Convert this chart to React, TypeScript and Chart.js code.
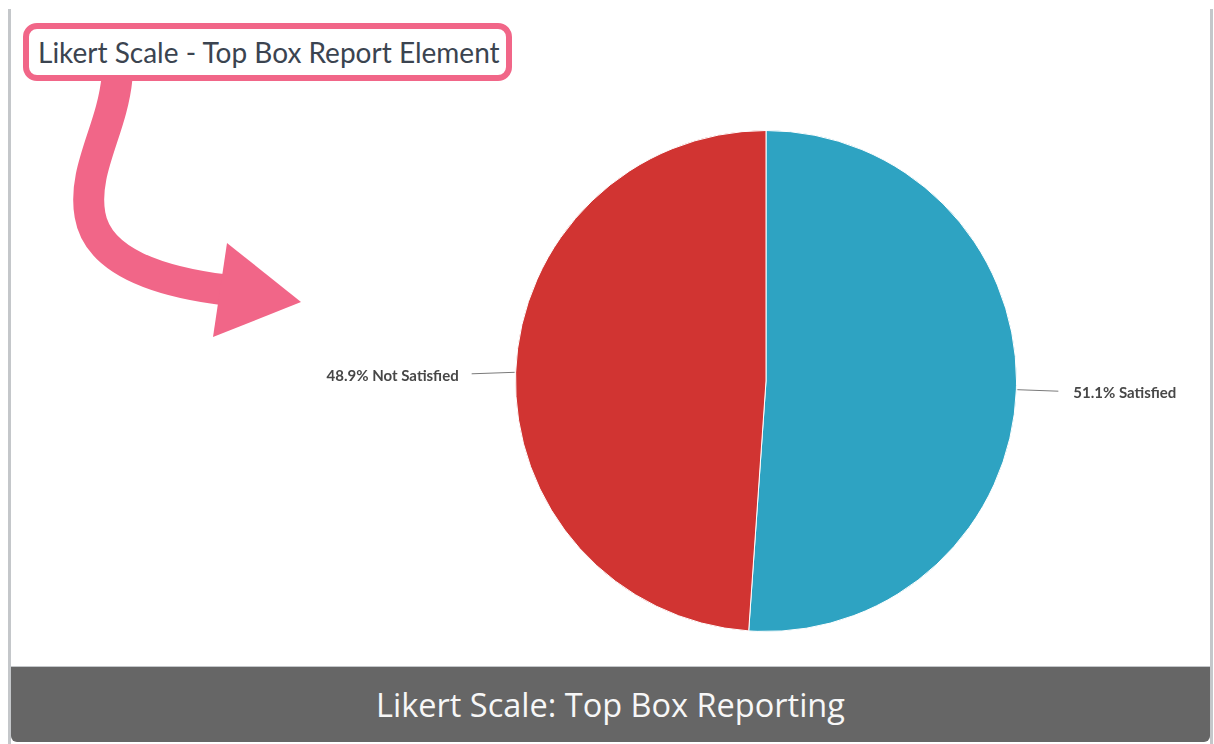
import React, { useEffect, useRef } from "react";
import { Chart, registerables } from "chart.js";

Chart.register(...registerables);

const categories = ["Satisfied", "Not Satisfied"];
const percentages = [51.1, 48.9];
const sliceColors = ["#2ea3c2", "#d13432"];
const annotationText = "Likert Scale - Top Box Report Element";
const footerText = "Likert Scale: Top Box Reporting";

const W = 1214;
const H = 744;

const pieLabelPlugin = {
  id: "pieLabels",
  afterDatasetsDraw(chart: any) {
    const ctx = chart.ctx;
    const meta = chart.getDatasetMeta(0);
    const data = chart.data.datasets[0].data as number[];
    const labels = chart.data.labels as string[];
    ctx.save();
    meta.data.forEach((arc: any, i: number) => {
      const { x, y, startAngle, endAngle, outerRadius } = arc.getProps(
        ["x", "y", "startAngle", "endAngle", "outerRadius"],
        true
      );
      const mid = (startAngle + endAngle) / 2;
      const ex = x + Math.cos(mid) * (outerRadius + 1);
      const ey = y + Math.sin(mid) * (outerRadius + 1);
      const right = Math.cos(mid) >= 0;
      const lx = ex + (right ? 41 : -43);
      const ly = ey + 1.5;
      ctx.strokeStyle = "#7a7a7a";
      ctx.lineWidth = 1;
      ctx.beginPath();
      ctx.moveTo(ex, ey);
      ctx.lineTo(lx, ly);
      ctx.stroke();
      ctx.fillStyle = "#474747";
      ctx.font = "bold 15px Lato";
      ctx.textBaseline = "middle";
      ctx.textAlign = right ? "left" : "right";
      const text = `${data[i].toFixed(1)}% ${labels[i]}`;
      ctx.fillText(text, lx + (right ? 15 : -13), ly + 2);
    });
    ctx.restore();
  },
};

export default function App() {
  const canvasRef = useRef<HTMLCanvasElement | null>(null);

  useEffect(() => {
    if (!canvasRef.current) return;
    const chart = new Chart(canvasRef.current, {
      type: "pie",
      data: {
        labels: categories,
        datasets: [
          {
            data: percentages,
            backgroundColor: sliceColors,
            borderColor: "#ffffff",
            borderWidth: 1,
          },
        ],
      },
      options: {
        animation: false,
        responsive: false,
        devicePixelRatio: 1,
        layout: { padding: { left: 515, right: 197, top: 130, bottom: 112 } },
        plugins: {
          legend: { display: false },
          title: { display: false },
          tooltip: { enabled: false },
        },
      },
      plugins: [pieLabelPlugin],
    });
    return () => chart.destroy();
  }, []);

  return (
    <div
      style={{
        position: "fixed",
        left: 0,
        top: 0,
        width: W,
        height: H,
        background: "#ffffff",
        overflow: "hidden",
      }}
    >
      <canvas
        ref={canvasRef}
        width={W}
        height={H}
        style={{ position: "absolute", left: 0, top: 0, width: W, height: H }}
      />
      {/* card side borders */}
      <div style={{ position: "absolute", left: 8, top: 9, width: 3, height: H - 9, background: "#c4c7ca" }} />
      <div style={{ position: "absolute", left: 1210, top: 9, width: 3, height: H - 9, background: "#c4c7ca" }} />
      {/* footer bar */}
      <div style={{ position: "absolute", left: 11, top: 666, width: 1199, height: 1, background: "#c4c7ca" }} />
      <div
        style={{
          position: "absolute",
          left: 11,
          top: 667,
          width: 1199,
          height: 75,
          background: "#666666",
          borderRadius: "0 0 6px 6px",
          display: "flex",
          alignItems: "center",
          justifyContent: "center",
          color: "#f7f7f7",
          fontFamily: "'Open Sans'",
          fontSize: 32.5,
        }}
      >
        {footerText}
      </div>
      {/* annotation arrow */}
      <svg
        width={W}
        height={H}
        style={{ position: "absolute", left: 0, top: 0, pointerEvents: "none" }}
      >
        <path
          d="M 117 78 C 112 130, 82 170, 90 215 C 98 262, 160 282, 226 290"
          fill="none"
          stroke="#f16688"
          strokeWidth={31}
        />
        <polygon points="227,243 301,302 213,337" fill="#f16688" />
      </svg>
      {/* annotation box */}
      <div
        style={{
          position: "absolute",
          left: 23,
          top: 23,
          width: 489,
          height: 58,
          boxSizing: "border-box",
          border: "6px solid #f16688",
          borderRadius: 14,
          background: "#ffffff",
          display: "flex",
          alignItems: "center",
          paddingLeft: 9,
          fontFamily: "Lato",
          fontSize: 28,
          color: "#3b4450",
          whiteSpace: "nowrap",
        }}
      >
        {annotationText}
      </div>
    </div>
  );
}
